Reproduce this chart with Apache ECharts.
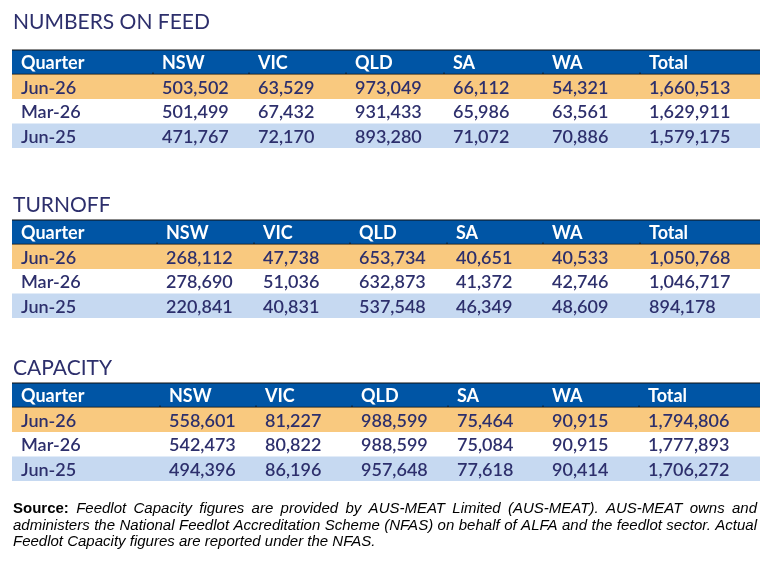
<!DOCTYPE html>
<html>
<head>
<meta charset="utf-8">
<script src="https://cdn.jsdelivr.net/npm/echarts@6/dist/echarts.min.js"></script>
<style>
html, body { margin: 0; background: #fff; }
#chart { width: 776px; height: 570px; }
</style>
</head>
<body>
<div id="chart"></div>
<script>
// column headings and row labels
const columns = ["Quarter", "NSW", "VIC", "QLD", "SA", "WA", "Total"];
const quarters = ["Jun-26", "Mar-26", "Jun-25"];

// NUMBERS ON FEED (NSW, VIC, QLD, SA, WA, Total)
const feedJun26 = [503502, 63529, 973049, 66112, 54321, 1660513];
const feedMar26 = [501499, 67432, 931433, 65986, 63561, 1629911];
const feedJun25 = [471767, 72170, 893280, 71072, 70886, 1579175];

// TURNOFF
const turnJun26 = [268112, 47738, 653734, 40651, 40533, 1050768];
const turnMar26 = [278690, 51036, 632873, 41372, 42746, 1046717];
const turnJun25 = [220841, 40831, 537548, 46349, 48609, 894178];

// CAPACITY
const capJun26 = [558601, 81227, 988599, 75464, 90915, 1794806];
const capMar26 = [542473, 80822, 988599, 75084, 90915, 1777893];
const capJun25 = [494396, 86196, 957648, 77618, 90414, 1706272];

const sourceLabel = "Source:";
const sourceNote = [
	"Feedlot Capacity figures are provided by AUS-MEAT Limited (AUS-MEAT). AUS-MEAT owns and",
	"administers the National Feedlot Accreditation Scheme (NFAS) on behalf of ALFA and the feedlot sector. Actual",
	"Feedlot Capacity figures are reported under the NFAS."
];

const tables = [
	{ title: "NUMBERS ON FEED", rows: [feedJun26, feedMar26, feedJun25], top: 50, titleTop: 12, colX: [9, 150, 246, 343, 441, 540, 637] },
	{ title: "TURNOFF", rows: [turnJun26, turnMar26, turnJun25], top: 220, titleTop: 195, colX: [9, 154, 251, 347, 444, 540, 637] },
	{ title: "CAPACITY", rows: [capJun26, capMar26, capJun25], top: 383, titleTop: 358, colX: [9, 157, 253, 349, 445, 540, 636] }
];

const rowColors = ["#0055a5", "#f9c97f", "#ffffff", "#c6d9f1"];
const textColor = "#2d2f6c";
const bodyFont = "Lato, 'Noto Sans', sans-serif";
const noteFont = "'Liberation Sans', Arial, sans-serif";
const noteSize = 15;
const noteWidth = 744;
const fmt = v => v.toLocaleString("en-US");

// justify a note line: returns rich text with sized gaps between words
var measureCtx = document.createElement("canvas").getContext("2d");
function measure(txt, weight) {
	measureCtx.font = "italic " + weight + " " + noteSize + "px " + noteFont;
	if (weight === "bold") measureCtx.font = "bold " + noteSize + "px " + noteFont;
	return measureCtx.measureText(txt).width;
}
function justifyLine(words, gapName, lead) {
	var used = lead ? measure(lead, "bold") : 0;
	words.forEach(w => used += measure(w, "normal"));
	var gaps = words.length - 1 + (lead ? 1 : 0);
	var gap = (noteWidth - used) / gaps;
	var parts = words.map(w => "{i|" + w + "}");
	var txt = parts.join("{" + gapName + "| }");
	if (lead) txt = "{b|" + lead + "}{" + gapName + "| }" + txt;
	return { text: txt, gap: gap };
}

function createOption() {
	var grids = [], xAxes = [], yAxes = [], series = [], titles = [];
	tables.forEach((t, i) => {
		grids.push({ left: 12, width: 748, top: t.top, height: 98 });
		xAxes.push({ type: "value", gridIndex: i, min: 0, max: 748, show: false });
		yAxes.push({ type: "category", gridIndex: i, inverse: true, show: false,
			data: ["Quarter"].concat(quarters) });
		titles.push({
			text: t.title, left: 13, top: t.titleTop, padding: 0,
			textStyle: { fontFamily: bodyFont, fontSize: 21, fontWeight: "normal", color: textColor }
		});

		// row bands
		series.push({
			type: "custom", xAxisIndex: i, yAxisIndex: i, silent: true,
			data: [0, 1, 2, 3].map(r => [0, r]),
			renderItem: function (params, api) {
				var r = api.value(1);
				var c = api.coord([0, r]);
				var h = api.size([0, 1])[1];
				var cs = params.coordSys;
				var children = [{
					type: "rect",
					shape: { x: cs.x, y: c[1] - h / 2, width: cs.width, height: h },
					style: { fill: rowColors[r] }
				}];
				if (r === 0) {
					var yb = c[1] + h / 2;
					children.push({ type: "line", shape: { x1: cs.x, y1: c[1] - h / 2, x2: cs.x + cs.width, y2: c[1] - h / 2 }, style: { stroke: "#111", lineWidth: 1 } });
					children.push({ type: "line", shape: { x1: cs.x, y1: yb, x2: cs.x + cs.width, y2: yb }, style: { stroke: "#111", lineWidth: 1.5 } });
					// little marks at the column boundaries
					t.colX.slice(1).forEach(x => {
						var px = api.coord([x - 9, r])[0];
						children.push({ type: "line", shape: { x1: px, y1: yb - 2, x2: px, y2: yb + 1 }, style: { stroke: "#111", lineWidth: 1 } });
					});
				}
				return { type: "group", children: children };
			}
		});

		// cell texts
		var cells = [];
		columns.forEach((name, c) => cells.push([t.colX[c], 0, name]));
		t.rows.forEach((vals, r) => {
			cells.push([t.colX[0], r + 1, quarters[r]]);
			vals.forEach((v, c) => cells.push([t.colX[c + 1], r + 1, fmt(v)]));
		});
		series.push({
			type: "custom", xAxisIndex: i, yAxisIndex: i, silent: true,
			data: cells,
			renderItem: function (params, api) {
				var r = api.value(1);
				var p = api.coord([api.value(0), r]);
				return {
					type: "text",
					x: p[0], y: p[1] + 1,
					style: {
						text: cells[params.dataIndex][2],
						fill: r === 0 ? "#ffffff" : textColor,
						font: (r === 0 ? "bold " : "600 ") + "18px " + bodyFont,
						verticalAlign: "middle"
					}
				};
			}
		});
	});

	// source note, first two lines justified like the original
	var l1 = justifyLine(sourceNote[0].split(" "), "g1", sourceLabel);
	var l2 = justifyLine(sourceNote[1].split(" "), "g2");
	var base = { fontFamily: noteFont, fontSize: noteSize, color: "#000", lineHeight: 16.5 };
	titles.push({
		left: 13, top: 501, padding: 0,
		text: l1.text + "\n" + l2.text + "\n{i|" + sourceNote[2] + "}",
		textStyle: {
			rich: {
				b: Object.assign({}, base, { fontWeight: "bold" }),
				i: Object.assign({}, base, { fontWeight: "normal", fontStyle: "italic" }),
				g1: Object.assign({}, base, { width: l1.gap }),
				g2: Object.assign({}, base, { width: l2.gap })
			}
		}
	});

	return {
		animation: false,
		title: titles,
		grid: grids,
		xAxis: xAxes,
		yAxis: yAxes,
		series: series
	};
}

var myChart = echarts.init(document.getElementById("chart"));
myChart.setOption(createOption());
</script>
</body>
</html>
